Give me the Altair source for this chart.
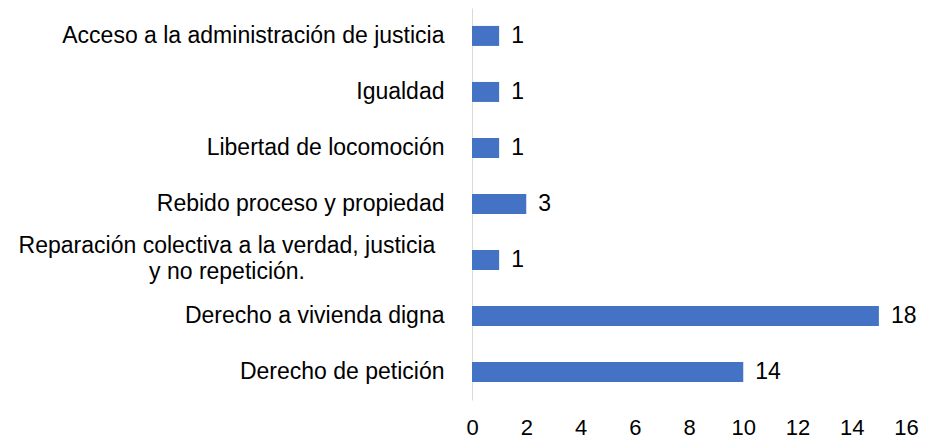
import altair as alt
import pandas as pd

categories = [
    "Acceso a la administración de justicia",
    "Igualdad",
    "Libertad de locomoción",
    "Rebido proceso y propiedad",
    "Reparación colectiva a la verdad, justicia y no repetición.",
    "Derecho a vivienda digna",
    "Derecho de petición",
]
bar_values = [1, 1, 1, 2, 1, 15, 10]
label_values = [1, 1, 1, 3, 1, 18, 14]
wrapped_names = [
    "", "", "", "",
    "Reparación colectiva a la verdad, justicia\ny no repetición.",
    "", "",
]
x_ticks = [0, 2, 4, 6, 8, 10, 12, 14, 16]

df = pd.DataFrame({
    "cat": categories,
    "bar": bar_values,
    "lab": label_values,
    "wrapped": wrapped_names,
})

FONT = "Liberation Sans"
FS = 23
BLUE = "#4472C4"

y_enc = alt.Y(
    "cat:N",
    sort=categories,
    title=None,
    scale=alt.Scale(paddingInner=0.643, paddingOuter=0.32),
    axis=alt.Axis(
        labelExpr="indexof(datum.label, 'Reparación') == 0 ? '' : datum.label",
        labelFont=FONT,
        labelFontSize=FS,
        labelColor="#000000",
        labelPadding=28,
        labelLimit=600,
        ticks=False,
        domainColor="#D9D9D9",
        domainWidth=1,
        grid=False,
    ),
)

x_enc = alt.X(
    "bar:Q",
    title=None,
    scale=alt.Scale(domain=[0, 16], nice=False),
    axis=alt.Axis(
        values=x_ticks,
        labelFont=FONT,
        labelFontSize=22,
        labelColor="#000000",
        labelPadding=17,
        labelFlush=False,
        labelOverlap=False,
        ticks=False,
        domain=False,
        grid=False,
    ),
)

base = alt.Chart(df)

bars = base.mark_bar(color=BLUE).encode(x=x_enc, y=y_enc)

labels = base.mark_text(
    align="left", baseline="middle", dx=12, font=FONT, fontSize=FS, color="#000000"
).encode(x="bar:Q", y=alt.Y("cat:N", sort=categories), text="lab:Q")

wrapped = base.transform_filter("datum.wrapped != ''").mark_text(
    align="center", baseline="middle", lineBreak="\n", lineHeight=26, dy=-14,
    font=FONT, fontSize=FS, color="#000000"
).encode(x=alt.value(-245), y=alt.Y("cat:N", sort=categories), text="wrapped:N")

chart = alt.layer(bars, labels, wrapped).properties(
    width=434,
    height=392,
    autosize="none",
    background="white",
    padding={"left": 464, "top": 0, "right": 14, "bottom": 41},
).configure_view(strokeWidth=0, stroke="transparent")

chart.save("out.html", embed_options={"renderer": "svg", "actions": False})
